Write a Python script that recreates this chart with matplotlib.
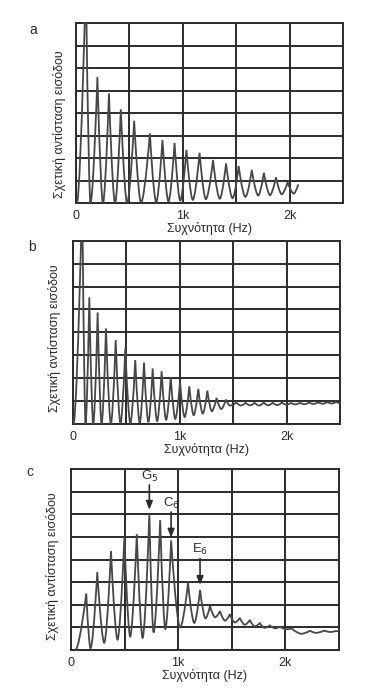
import matplotlib
matplotlib.use("Agg")
import matplotlib.pyplot as plt
from matplotlib.path import Path
from matplotlib.patches import PathPatch

plt.rcParams['font.family'] = ['Liberation Sans', 'DejaVu Sans']

# panel a: peaks and troughs of the input impedance curve (Hz, relative value)
a_peak_hz = [92, 200, 308, 419, 544, 691, 809, 922, 1033, 1156, 1282, 1404,
             1522, 1645, 1758, 1871, 1980, 2080]
a_peak_val = [10, 5.6, 4.88, 4.17, 3.66, 3.1, 2.81, 2.68, 2.37, 2.24, 1.92, 1.77,
              1.65, 1.48, 1.35, 1.15, 0.93, 0.84]
a_trough_hz = [8, 135, 252, 365, 478, 608, 750, 865, 975, 1093, 1215, 1345,
               1465, 1585, 1705, 1815, 1925, 2038]
a_trough_val = [0, 0, 0, 0, 0, 0.02, 0.05, 0.08, 0.12, 0.15, 0.18, 0.2,
                0.22, 0.28, 0.34, 0.36, 0.4, 0.43]

# panel b
b_peak_hz = [87, 153, 231, 309, 400, 490, 583, 665, 746, 830, 915, 1002, 1089,
             1173, 1258, 1344, 1431, 1530, 1615, 1700, 1785, 1870, 1955, 2040,
             2125, 2210, 2295, 2380, 2465]
b_peak_val = [10, 5.53, 4.87, 4.17, 3.66, 3.3, 2.79, 2.68, 2.42, 2.3, 2.05, 1.85, 1.64,
              1.53, 1.45, 1.13, 1.06, 0.93, 0.92, 0.92, 0.93, 0.92, 0.93, 0.91,
              0.92, 0.93, 0.94, 0.95, 0.96]
b_trough_hz = [5, 118, 190, 268, 355, 445, 537, 625, 706, 788, 872, 958, 1045,
               1130, 1215, 1300, 1388, 1470, 1572, 1657, 1742, 1827, 1912, 1997,
               2082, 2167, 2252, 2337, 2422, 2500]
b_trough_val = [0, 0, 0, 0, 0, 0, 0.02, 0.05, 0.08, 0.12, 0.18, 0.22, 0.3,
                0.38, 0.45, 0.55, 0.65, 0.8, 0.8, 0.81, 0.8, 0.81, 0.82, 0.84,
                0.85, 0.86, 0.87, 0.88, 0.89, 0.9]

# panel c
c_peak_hz = [142, 245, 373, 498, 614, 731, 832, 934, 1092, 1204, 1297, 1390,
             1483, 1576, 1669, 1762, 1855, 1950, 2060, 2230, 2360, 2470]
c_peak_val = [2.5, 3.45, 4.38, 4.99, 5.12, 6.02, 5.75, 4.85, 2.97, 2.66, 1.95, 1.72,
              1.58, 1.42, 1.33, 1.19, 1.09, 1.03, 0.95, 0.85, 0.86, 0.84]
c_trough_hz = [40, 182, 310, 434, 552, 668, 770, 880, 1018, 1150, 1255, 1345,
               1437, 1530, 1622, 1715, 1808, 1905, 2010, 2150, 2290, 2420, 2500]
c_trough_val = [0, 0.08, 0.32, 0.46, 0.6, 0.54, 0.78, 0.93, 1.0, 1.2, 1.4, 1.45,
                1.3, 1.22, 1.12, 1.05, 0.98, 0.96, 0.92, 0.72, 0.76, 0.8, 0.83]

# marked notes in panel c: (label, Hz, arrow tip, arrow tail)
note_labels = ['G$_5$', 'C$_6$', 'E$_6$']
note_hz = [731, 934, 1204]
note_tip = [6.2, 4.97, 2.88]
note_tail = [7.3, 6.1, 4.05]

panel_letters = ['a', 'b', 'c']
x_ticks = [0, 500, 1000, 1500, 2000, 2500]
x_ticklabels = ['0', '', '1k', '', '2k', '']

INK = '#2b2b2b'
CURVE = '#474747'


def resonance_path(peak_hz, peak_val, trough_hz, trough_val):
    """Sharp peaks and rounded troughs joined by cubic Bezier pieces."""
    pts = []
    kinds = []
    for i in range(len(peak_hz)):
        pts.append((trough_hz[i], trough_val[i]))
        kinds.append('t')
        pts.append((peak_hz[i], peak_val[i]))
        kinds.append('p')
    if len(trough_hz) > len(peak_hz):
        pts.append((trough_hz[-1], trough_val[-1]))
        kinds.append('t')

    verts = [pts[0]]
    codes = [Path.MOVETO]
    for k in range(1, len(pts)):
        (x0, y0), (x1, y1) = pts[k - 1], pts[k]
        dx = x1 - x0
        if kinds[k - 1] == 't':
            c1 = (x0 + 0.2 * dx, y0)
            c2 = (x1 - 0.45 * dx, y0 + 0.3 * (y1 - y0))
        else:
            c1 = (x0 + 0.45 * dx, y1 + 0.3 * (y0 - y1))
            c2 = (x1 - 0.2 * dx, y1)
        verts += [c1, c2, (x1, y1)]
        codes += [Path.CURVE4] * 3
    return Path(verts, codes)


def draw_panel(ax, peak_hz, peak_val, trough_hz, trough_val, label_xy):
    ax.set_xlim(0, 2500)
    ax.set_ylim(0, 8)
    ax.set_xticks(x_ticks)
    ax.set_xticklabels(x_ticklabels, fontsize=9, color=INK)
    ax.set_yticks(range(9))
    ax.set_yticklabels([])
    ax.tick_params(length=0, pad=5)
    ax.grid(True, color=INK, lw=1.4)
    ax.set_axisbelow(True)
    for s in ax.spines.values():
        s.set_linewidth(1.4)
        s.set_color(INK)
    patch = PathPatch(resonance_path(peak_hz, peak_val, trough_hz, trough_val),
                      fill=False, edgecolor=CURVE, lw=1.3, zorder=3)
    ax.add_patch(patch)
    ax.set_xlabel('Συχνότητα (Hz)', fontsize=9, color=INK, labelpad=0)
    ax.set_ylabel('Σχετική αντίσταση εισόδου', fontsize=9, color=INK)
    ax.yaxis.set_label_coords(*label_xy)


fig = plt.figure(figsize=(3.86, 6.96), dpi=100)
ax_a = fig.add_axes([0.197, 0.708, 0.692, 0.259])
ax_b = fig.add_axes([0.189, 0.391, 0.692, 0.263])
ax_c = fig.add_axes([0.184, 0.066, 0.694, 0.260])

draw_panel(ax_a, a_peak_hz, a_peak_val, a_trough_hz, a_trough_val, (-0.037, 0.44))
draw_panel(ax_b, b_peak_hz, b_peak_val, b_trough_hz, b_trough_val, (-0.045, 0.47))
draw_panel(ax_c, c_peak_hz, c_peak_val, c_trough_hz, c_trough_val, (-0.044, 0.464))

for lab, hz, tip, tail in zip(note_labels, note_hz, note_tip, note_tail):
    ax_c.annotate('', xy=(hz, tip), xytext=(hz, tail),
                  arrowprops=dict(arrowstyle='-|>,head_length=0.5,head_width=0.2',
                                  color=INK, lw=1.2, shrinkA=0, shrinkB=0),
                  zorder=5)
    ax_c.text(hz, tail + 0.05, lab, ha='center', va='bottom', fontsize=9.5, color=INK,
              zorder=5)

for lab, (x, y) in zip(panel_letters, [(0.0855, 0.957), (0.083, 0.645), (0.078, 0.322)]):
    fig.text(x, y, lab, fontsize=10, color=INK, ha='center', va='center')

fig.savefig('out.png', dpi=100, facecolor='white')
